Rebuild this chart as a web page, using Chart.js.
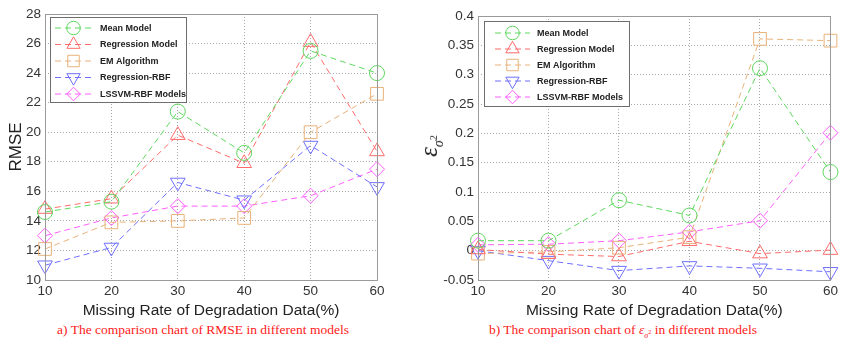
<!DOCTYPE html>
<html>
<head>
<meta charset="utf-8">
<script src="https://cdn.jsdelivr.net/npm/chart.js@4/dist/chart.umd.min.js"></script>
<style>
  html, body { margin: 0; padding: 0; background: #fff; }
  body { width: 841px; height: 344px; position: relative; overflow: hidden; }
  .box { position: absolute; top: 0; height: 320px; }
  .caption { position: absolute; top: 322px; color: #ff1a1a; font-family: "Liberation Serif", "Times New Roman", serif; font-size: 13.5px; white-space: nowrap; transform: translateX(-50%); }
  .eps { font-style: italic; }
  .ytitle { position: absolute; left: 431px; top: 146px; transform: translate(-50%, -50%) rotate(-90deg); font-family: "Liberation Serif", serif; font-size: 25px; color: #222; white-space: nowrap; }
  .ytitle sub { font-size: 14px; }
  .ytitle sup { font-size: 10px; }
</style>
</head>
<body>
<div class="box" style="left:0;width:420px"><canvas id="rmse"></canvas></div>
<div class="box" style="left:420px;width:421px"><canvas id="eps"></canvas></div>
<div class="ytitle"><span class="eps">ε</span><sub><span class="eps">σ</span><sup>2</sup></sub></div>
<div class="caption" style="left:203px">a) The comparison chart of RMSE in different models</div>
<div class="caption" style="left:623px">b) The comparison chart of <span class="eps">ε</span><sub style="font-size:8px"><span class="eps">σ</span><sup style="font-size:6px">2</sup></sub> in different models</div>
<script>
// Missing rate of degradation data (%)
const categories = [10, 20, 30, 40, 50, 60];
const modelNames = ['Mean Model', 'Regression Model', 'EM Algorithm', 'Regression-RBF', 'LSSVM-RBF Models'];

// RMSE of each model
const rmseMean       = [14.6, 15.3, 21.4, 18.6, 25.5, 24.0];
const rmseRegression = [14.8, 15.5, 19.8, 17.9, 26.1, 18.7];
const rmseEM         = [12.1, 13.9, 14.0, 14.2, 20.0, 22.6];
const rmseRegRBF     = [11.0, 12.2, 16.6, 15.4, 19.1, 16.3];
const rmseLSSVM      = [13.0, 14.2, 15.0, 15.0, 15.7, 17.5];

// Variance error of each model
const epsMean        = [0.017, 0.017, 0.086, 0.060, 0.311, 0.134];
const epsRegression  = [0.002, -0.006, -0.010, 0.016, -0.005, 0.001];
const epsEM          = [-0.005, -0.002, 0.005, 0.023, 0.361, 0.358];
const epsRegRBF      = [0.000, -0.017, -0.034, -0.026, -0.030, -0.036];
const epsLSSVM       = [0.010, 0.011, 0.017, 0.032, 0.051, 0.201];

const rmseTicks = [10, 12, 14, 16, 18, 20, 22, 24, 26, 28];
const epsTicks  = [-0.05, 0, 0.05, 0.1, 0.15, 0.2, 0.25, 0.3, 0.35, 0.4];

const styles = [
  { color: '#5ed85e', pointStyle: 'circle',   radius: 7.5, rotation: 0 },
  { color: '#ff6b6b', pointStyle: 'triangle', radius: 8.5, rotation: 0 },
  { color: '#e8b27a', pointStyle: 'rect',     radius: 9,   rotation: 0 },
  { color: '#6f6fff', pointStyle: 'triangle', radius: 8.5, rotation: 180 },
  { color: '#ff5eff', pointStyle: 'rectRot',  radius: 7.5, rotation: 0 }
];

const FONT = '"Liberation Sans", Arial, sans-serif';

function makeDatasets(series) {
  return series.map((vals, i) => ({
    label: modelNames[i],
    data: vals,
    borderColor: styles[i].color,
    backgroundColor: 'rgba(0,0,0,0)',
    borderWidth: 1,
    borderDash: [6, 4],
    pointStyle: styles[i].pointStyle,
    pointRadius: styles[i].radius,
    pointHoverRadius: styles[i].radius,
    pointRotation: styles[i].rotation,
    pointBorderColor: styles[i].color,
    pointBackgroundColor: 'rgba(0,0,0,0)',
    pointBorderWidth: 1,
    tension: 0,
    fill: false,
    clip: false
  }));
}

// Frame around the plot area and a boxed legend inside it
const framePlugin = {
  id: 'frameLegend',
  afterDatasetsDraw(chart, args, opts) {
    const { ctx, chartArea: a } = chart;
    ctx.save();
    ctx.strokeStyle = '#9a9a9a';
    ctx.lineWidth = 1;
    ctx.setLineDash([]);
    ctx.strokeRect(Math.round(a.left) + 0.5, Math.round(a.top) + 0.5,
                   Math.round(a.right - a.left), Math.round(a.bottom - a.top));
    // legend
    const L = opts;
    ctx.fillStyle = '#ffffff';
    ctx.fillRect(L.x, L.y, L.w, L.h);
    ctx.strokeStyle = '#6e6e6e';
    ctx.strokeRect(L.x + 0.5, L.y + 0.5, L.w, L.h);
    chart.data.datasets.forEach((ds, i) => {
      const y = L.y + L.first + i * L.step;
      ctx.strokeStyle = ds.borderColor;
      ctx.lineWidth = 1;
      ctx.setLineDash([6, 4]);
      ctx.beginPath();
      ctx.moveTo(L.x + L.lineFrom, y);
      ctx.lineTo(L.x + L.lineTo, y);
      ctx.stroke();
      ctx.setLineDash([]);
      ctx.fillStyle = 'rgba(0,0,0,0)';
      Chart.helpers.drawPoint(ctx, {
        pointStyle: ds.pointStyle, radius: ds.pointRadius * 0.9,
        rotation: ds.pointRotation, borderWidth: 1
      }, L.x + (L.lineFrom + L.lineTo) / 2, y);
      ctx.fillStyle = '#222';
      ctx.font = 'bold 9px ' + FONT;
      ctx.textBaseline = 'middle';
      ctx.textAlign = 'left';
      ctx.fillText(ds.label, L.x + L.textX, y + 0.5);
    });
    ctx.restore();
  }
};

function makeChart(id, series, ticks, yTitle, geom, legend, fmt) {
  return new Chart(document.getElementById(id), {
    type: 'line',
    data: { labels: categories, datasets: makeDatasets(series) },
    plugins: [framePlugin],
    options: {
      responsive: true,
      maintainAspectRatio: false,
      animation: false,
      events: [],
      layout: { padding: { top: geom.top, right: geom.right, left: 0, bottom: 0 } },
      plugins: {
        legend: { display: false },
        tooltip: { enabled: false },
        frameLegend: legend
      },
      scales: {
        x: {
          type: 'category',
          offset: false,
          grid: { color: '#a8a8a8', drawTicks: false, lineWidth: 1 },
          border: { display: false, dash: [1, 2] },
          ticks: { color: '#333', font: { family: FONT, size: 13.5 }, padding: 3, maxRotation: 0 },
          title: { display: true, text: 'Missing Rate of Degradation Data(%)', color: '#222',
                   font: { family: FONT, size: 15.5 }, padding: { top: 0, bottom: 0 } },
          afterFit(s) { s.height = 40; }
        },
        y: {
          type: 'linear',
          min: ticks[0],
          max: ticks[ticks.length - 1],
          afterBuildTicks(s) { s.ticks = ticks.map(v => ({ value: v })); },
          grid: { color: '#a8a8a8', drawTicks: false, lineWidth: 1 },
          border: { display: false, dash: [1, 2] },
          ticks: { color: '#333', font: { family: FONT, size: 13.5 }, padding: 4,
                   callback: fmt },
          title: { display: !!yTitle, text: yTitle, color: '#222',
                   font: { family: FONT, size: 17 }, padding: { top: 6, bottom: 0 } },
          afterFit(s) { s.width = geom.left; }
        }
      }
    }
  });
}

makeChart('rmse', [rmseMean, rmseRegression, rmseEM, rmseRegRBF, rmseLSSVM], rmseTicks, 'RMSE',
  { top: 14, right: 43, left: 45 },
  { x: 50, y: 17, w: 136, h: 85, first: 11, step: 16.5, lineFrom: 5, lineTo: 42, textX: 50 },
  v => String(v));

makeChart('eps', [epsMean, epsRegression, epsEM, epsRegRBF, epsLSSVM], epsTicks, '',
  { top: 16, right: 8, left: 58 },
  { x: 64, y: 21, w: 145, h: 85, first: 12, step: 16, lineFrom: 11, lineTo: 46, textX: 53 },
  v => String(Number(v.toFixed(2))));
</script>
</body>
</html>
